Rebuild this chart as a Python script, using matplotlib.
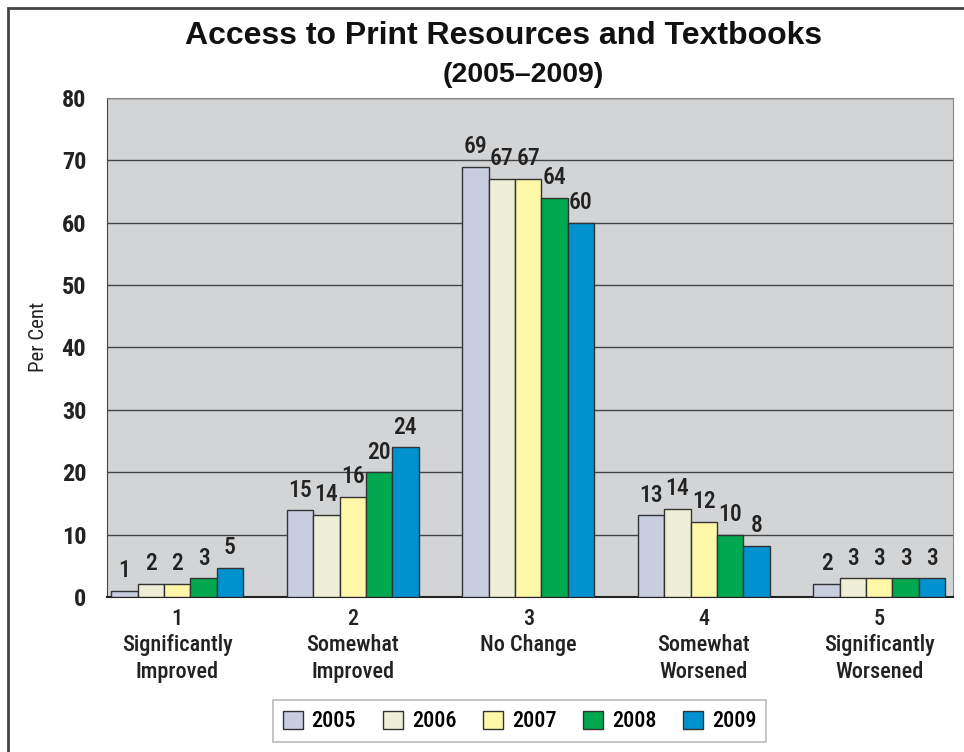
import numpy as np
import matplotlib.pyplot as plt
from matplotlib.patches import Rectangle

years = ['2005', '2006', '2007', '2008', '2009']
categories = ['1\nSignificantly\nImproved', '2\nSomewhat\nImproved', '3\nNo Change',
              '4\nSomewhat\nWorsened', '5\nSignificantly\nWorsened']
# printed labels
labels = [
    [1, 15, 69, 13, 2],
    [2, 14, 67, 14, 3],
    [2, 16, 67, 12, 3],
    [3, 20, 64, 10, 3],
    [5, 24, 60, 8, 3],
]
# bar heights as drawn in the picture
heights = [
    [1.0, 13.9, 69, 13.1, 2.1],
    [2.1, 13.2, 67, 14.1, 3],
    [2.1, 16, 67, 12, 3],
    [3, 20, 64, 10, 3],
    [4.7, 24, 60, 8.2, 3],
]
colors = ['#c8cde0', '#efefd8', '#fff8a8', '#00a84f', '#0091cf']

narrow = ['Roboto Condensed', 'DejaVu Sans']
txtc = '#222222'

fig = plt.figure(figsize=(9.64, 7.52), dpi=100)
ax = fig.add_axes([0.111, 0.2061, 0.8776, 0.6636])
ax.set_facecolor('#d3d4d6')

x = np.arange(len(categories))
w = 0.15
for i, yr in enumerate(years):
    xs = x + (i - 2) * w
    ax.bar(xs, heights[i], width=w, color=colors[i], edgecolor='#333333',
           linewidth=1.0, label=yr, zorder=3)
    for xx, h, lab in zip(xs, heights[i], labels[i]):
        ax.text(xx, h + 1.4, str(lab), ha='center', va='bottom', fontsize=17,
                family=narrow, fontweight='medium', color=txtc, zorder=4)

ax.set_ylim(0, 80)
ax.set_xlim(-0.4, 4.42)
ax.set_yticks(range(0, 81, 10))
ax.set_yticklabels([str(v) for v in range(0, 81, 10)], fontsize=17.5, family=narrow,
                   fontweight='bold', color=txtc)
ax.set_xticks(x)
ax.set_xticklabels(categories, fontsize=16, family=narrow, fontweight='medium',
                   color=txtc, linespacing=1.25)
ax.tick_params(length=0, pad=15)
ax.tick_params(axis='x', pad=8)
ax.yaxis.grid(True, color='#444444', linewidth=1.0, zorder=0)
ax.set_axisbelow(True)
for s in ['top', 'right']:
    ax.spines[s].set_color('#888888')
ax.spines['left'].set_color('#444444')
ax.spines['bottom'].set_color('#222222')
ax.spines['bottom'].set_linewidth(1.5)

fig.text(0.04, 0.552, 'Per Cent', rotation=90, ha='center', va='center',
         fontsize=15, family=narrow, color=txtc)

fig.text(0.522, 0.952, 'Access to Print Resources and Textbooks', ha='center',
         va='center', fontsize=23, fontweight='bold', family=['Liberation Sans', 'DejaVu Sans'],
         color='#111111')
fig.text(0.5425, 0.9, '(2005\u20132009)', ha='center', va='center', fontsize=20.5,
         fontweight='bold', family=['Liberation Sans', 'DejaVu Sans'], color='#111111')

leg = fig.legend(loc='center', bbox_to_anchor=(0.539, 0.0406), ncol=5,
                 frameon=True, fancybox=False, edgecolor='#aaaaaa',
                 prop={'family': narrow, 'size': 16, 'weight': 'medium'},
                 handlelength=0.9, handleheight=0.9, columnspacing=1.2,
                 handletextpad=0.4, borderpad=0.45, borderaxespad=0)
leg.get_frame().set_linewidth(1.2)

fig.patches.append(Rectangle((8 / 964, -0.1), 1.2, 1.1 - 8 / 752,
                             transform=fig.transFigure, fill=False,
                             edgecolor='#444444', linewidth=2))

fig.savefig('out.png', dpi=100)
